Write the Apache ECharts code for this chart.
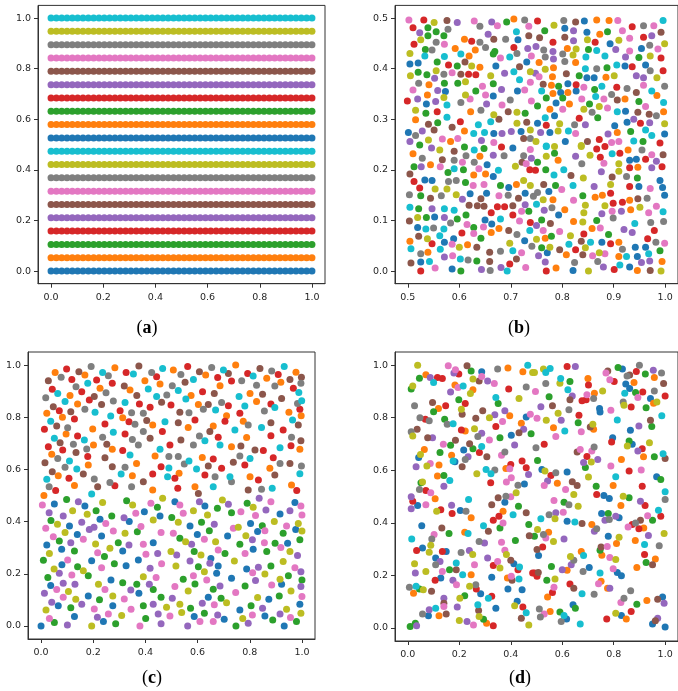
<!DOCTYPE html>
<html>
<head>
<meta charset="utf-8">
<script src="https://cdn.jsdelivr.net/npm/echarts@6/dist/echarts.min.js"></script>
<style>
  html, body { margin: 0; padding: 0; background: #fff; }
  #chart { width: 678px; height: 691px; }
</style>
</head>
<body>
<div id="chart"></div>
<script>
// tab10 colour cycle
const PALETTE = ['#1f77b4', '#ff7f0e', '#2ca02c', '#d62728', '#9467bd',
                 '#8c564b', '#e377c2', '#7f7f7f', '#bcbd22', '#17becf'];

// (a) regular grid: column positions and row levels
const gridX = [0.0000, 0.0204, 0.0408, 0.0612, 0.0816, 0.1020, 0.1224, 0.1429, 0.1633, 0.1837,
               0.2041, 0.2245, 0.2449, 0.2653, 0.2857, 0.3061, 0.3265, 0.3469, 0.3673, 0.3878,
               0.4082, 0.4286, 0.4490, 0.4694, 0.4898, 0.5102, 0.5306, 0.5510, 0.5714, 0.5918,
               0.6122, 0.6327, 0.6531, 0.6735, 0.6939, 0.7143, 0.7347, 0.7551, 0.7755, 0.7959,
               0.8163, 0.8367, 0.8571, 0.8776, 0.8980, 0.9184, 0.9388, 0.9592, 0.9796, 1.0000];
const gridY = [0.0000, 0.0526, 0.1053, 0.1579, 0.2105, 0.2632, 0.3158, 0.3684, 0.4211, 0.4737,
               0.5263, 0.5789, 0.6316, 0.6842, 0.7368, 0.7895, 0.8421, 0.8947, 0.9474, 1.0000];

// tick labels
const unitTicks = [0.0, 0.2, 0.4, 0.6, 0.8, 1.0];
const subsetTicksX = [0.5, 0.6, 0.7, 0.8, 0.9, 1.0];
const subsetTicksY = [0.0, 0.1, 0.2, 0.3, 0.4, 0.5];

// (b) sub-window sample: [x, y, colour index]
const subsetPts = [
[0.502,0.496,6],[0.531,0.496,3],[0.551,0.491,8],[0.576,0.495,5],[0.596,0.491,4],[0.629,0.494,6],[0.663,0.492,4],[0.692,0.492,2],[0.706,0.498,1],[0.727,0.496,7],
[0.510,0.481,3],[0.539,0.481,2],[0.523,0.471,4],[0.555,0.473,2],[0.578,0.478,7],[0.640,0.484,7],[0.674,0.485,6],[0.711,0.473,9],[0.735,0.484,6],[0.656,0.468,4],
[0.539,0.465,2],[0.525,0.457,8],[0.570,0.465,2],[0.512,0.448,3],[0.555,0.452,7],[0.571,0.448,6],[0.610,0.458,1],[0.624,0.454,3],[0.640,0.452,7],[0.667,0.458,5],[0.690,0.458,7],[0.714,0.457,0],[0.735,0.465,5],
[0.534,0.438,2],[0.547,0.437,7],[0.592,0.440,1],[0.631,0.437,1],[0.651,0.442,7],[0.669,0.434,2],[0.706,0.442,3],[0.733,0.440,4],[0.712,0.430,7],
[0.504,0.430,8],[0.533,0.425,9],[0.571,0.424,9],[0.603,0.429,9],[0.619,0.425,1],[0.666,0.429,2],[0.680,0.421,6],[0.698,0.423,9],[0.740,0.425,6],
[0.504,0.409,0],[0.520,0.411,0],[0.557,0.413,2],[0.579,0.407,3],[0.596,0.405,2],[0.611,0.413,5],[0.624,0.405,8],[0.640,0.403,1],[0.671,0.405,0],[0.717,0.404,5],[0.731,0.413,0],
[0.505,0.386,8],[0.520,0.393,2],[0.537,0.388,2],[0.555,0.396,8],[0.552,0.381,4],[0.570,0.389,7],[0.586,0.392,6],[0.603,0.389,5],[0.618,0.389,3],[0.632,0.388,3],[0.661,0.386,8],[0.688,0.391,4],[0.706,0.394,9],[0.738,0.394,8],
[0.521,0.371,7],[0.541,0.368,1],[0.571,0.371,2],[0.597,0.371,2],[0.612,0.374,8],[0.645,0.365,6],[0.666,0.370,2],[0.717,0.378,9],[0.682,0.359,4],[0.738,0.373,6],
[0.510,0.358,6],[0.538,0.348,1],[0.558,0.357,4],[0.573,0.355,0],[0.612,0.348,8],[0.632,0.356,2],[0.651,0.348,6],[0.666,0.346,0],[0.713,0.356,0],[0.727,0.358,6],
[0.499,0.336,3],[0.519,0.340,4],[0.536,0.330,0],[0.554,0.335,4],[0.570,0.343,8],[0.576,0.328,9],[0.603,0.333,7],[0.621,0.340,6],[0.653,0.330,4],[0.683,0.328,6],[0.699,0.338,7],[0.740,0.336,6],
[0.515,0.318,8],[0.535,0.312,2],[0.557,0.315,3],[0.622,0.315,1],[0.642,0.318,7],[0.576,0.304,9],[0.667,0.309,8],[0.695,0.315,5],[0.712,0.314,8],[0.728,0.312,2],
[0.515,0.299,1],[0.540,0.290,5],[0.558,0.293,2],[0.602,0.295,3],[0.637,0.289,9],[0.661,0.295,9],[0.677,0.300,5],[0.712,0.292,8],[0.731,0.294,5],
[0.501,0.274,0],[0.515,0.268,7],[0.528,0.277,4],[0.551,0.279,5],[0.586,0.284,5],[0.610,0.277,1],[0.628,0.272,9],[0.649,0.274,9],[0.667,0.272,0],[0.683,0.272,4],[0.701,0.276,4],[0.720,0.276,0],[0.738,0.279,8],
[0.504,0.256,4],[0.523,0.249,2],[0.540,0.259,8],[0.567,0.261,6],[0.583,0.256,1],[0.597,0.262,6],[0.643,0.258,4],[0.667,0.254,6],[0.725,0.262,5],[0.738,0.262,7],
[0.752,0.494,3],[0.784,0.486,8],[0.803,0.495,7],[0.826,0.492,5],[0.843,0.494,0],[0.867,0.496,1],[0.891,0.495,1],[0.908,0.495,6],[0.996,0.495,9],
[0.766,0.475,2],[0.805,0.480,0],[0.822,0.475,4],[0.848,0.472,0],[0.873,0.468,1],[0.888,0.473,2],[0.917,0.475,6],[0.936,0.483,3],[0.958,0.485,7],[0.978,0.485,6],[0.992,0.472,5],
[0.756,0.461,5],[0.782,0.452,3],[0.805,0.462,5],[0.822,0.455,4],[0.849,0.457,8],[0.864,0.452,3],[0.910,0.456,8],[0.931,0.460,6],[0.958,0.462,3],[0.974,0.465,4],[0.999,0.449,8],
[0.749,0.444,4],[0.764,0.437,7],[0.782,0.434,4],[0.810,0.440,1],[0.827,0.439,8],[0.851,0.438,2],[0.867,0.436,9],[0.893,0.449,0],[0.904,0.438,4],[0.931,0.435,6],[0.954,0.440,0],[0.970,0.446,7],[0.986,0.439,6],
[0.767,0.423,7],[0.783,0.419,4],[0.801,0.429,7],[0.821,0.427,8],[0.846,0.423,9],[0.883,0.425,9],[0.923,0.423,4],[0.949,0.422,2],[0.971,0.425,8],[0.992,0.421,3],[0.805,0.414,7],
[0.755,0.412,1],[0.767,0.399,8],[0.783,0.402,1],[0.826,0.412,1],[0.845,0.400,9],[0.867,0.400,7],[0.887,0.402,2],[0.906,0.407,9],[0.922,0.405,0],[0.936,0.404,3],[0.962,0.407,0],
[0.748,0.391,4],[0.755,0.384,6],[0.781,0.384,1],[0.808,0.390,5],[0.833,0.386,2],[0.848,0.382,0],[0.862,0.382,0],[0.885,0.383,1],[0.901,0.386,8],[0.944,0.386,4],[0.958,0.382,4],[0.984,0.382,8],[0.971,0.396,7],[0.996,0.396,3],
[0.763,0.369,5],[0.779,0.367,1],[0.793,0.365,2],[0.811,0.370,0],[0.827,0.368,3],[0.842,0.363,6],[0.877,0.365,9],[0.906,0.363,3],[0.926,0.361,7],[0.958,0.367,6],[0.999,0.365,7],
[0.760,0.356,9],[0.782,0.351,1],[0.797,0.353,0],[0.811,0.353,1],[0.827,0.356,0],[0.863,0.359,2],[0.896,0.349,7],[0.944,0.353,5],[0.974,0.356,9],[0.984,0.347,1],
[0.769,0.342,2],[0.788,0.332,0],[0.801,0.342,2],[0.814,0.330,1],[0.838,0.340,6],[0.865,0.345,9],[0.853,0.330,2],[0.881,0.340,6],[0.907,0.338,5],[0.922,0.340,1],[0.949,0.335,2],[0.962,0.325,6],[0.997,0.333,9],
[0.752,0.326,2],[0.776,0.320,1],[0.801,0.320,6],[0.842,0.320,8],[0.858,0.314,7],[0.872,0.325,8],[0.888,0.322,6],[0.907,0.315,9],[0.923,0.316,0],[0.785,0.307,0],[0.947,0.314,5],[0.969,0.310,5],[0.983,0.307,7],[0.997,0.315,1],
[0.752,0.292,0],[0.767,0.303,9],[0.769,0.288,3],[0.795,0.291,8],[0.833,0.302,3],[0.824,0.289,7],[0.845,0.289,4],[0.869,0.303,2],[0.902,0.287,0],[0.926,0.294,0],[0.939,0.300,4],[0.952,0.292,3],[0.970,0.293,4],[0.999,0.291,8],
[0.758,0.274,4],[0.776,0.274,0],[0.792,0.277,8],[0.812,0.277,9],[0.826,0.272,6],[0.889,0.271,4],[0.907,0.274,1],[0.933,0.276,2],[0.962,0.279,9],[0.974,0.268,9],[0.999,0.271,0],
[0.749,0.256,8],[0.769,0.247,9],[0.806,0.256,0],[0.849,0.256,5],[0.837,0.248,8],[0.872,0.260,3],[0.896,0.254,6],[0.910,0.256,6],[0.939,0.257,9],[0.957,0.256,2],[0.990,0.253,3],
[0.546,0.243,4],[0.562,0.239,8],[0.590,0.237,5],[0.610,0.245,2],[0.629,0.239,9],[0.648,0.242,2],[0.682,0.245,3],[0.704,0.243,0],[0.738,0.240,6],
[0.510,0.232,1],[0.528,0.223,7],[0.567,0.220,5],[0.590,0.219,7],[0.613,0.228,7],[0.640,0.227,1],[0.666,0.229,4],[0.687,0.228,7],[0.725,0.228,7],[0.740,0.223,4],
[0.512,0.206,2],[0.526,0.206,4],[0.544,0.210,1],[0.563,0.206,6],[0.590,0.202,9],[0.606,0.215,6],[0.608,0.200,2],[0.629,0.215,7],[0.638,0.202,6],[0.654,0.210,0],[0.651,0.192,1],[0.676,0.199,9],[0.730,0.212,6],[0.737,0.200,3],[0.709,0.207,8],[0.722,0.215,5],
[0.504,0.192,5],[0.578,0.195,2],[0.512,0.177,3],[0.533,0.180,0],[0.547,0.179,0],[0.579,0.177,7],[0.594,0.179,7],[0.612,0.175,2],[0.628,0.190,1],[0.627,0.169,6],[0.648,0.171,6],[0.666,0.187,0],[0.680,0.169,2],[0.696,0.165,0],[0.711,0.171,1],[0.725,0.179,8],[0.738,0.169,8],
[0.523,0.164,3],[0.553,0.162,8],[0.576,0.162,8],[0.503,0.151,7],[0.525,0.149,2],[0.544,0.144,5],[0.565,0.149,7],[0.594,0.151,8],[0.621,0.153,0],[0.642,0.143,5],[0.653,0.154,0],[0.677,0.149,6],[0.695,0.150,7],[0.715,0.144,5],[0.728,0.154,0],[0.744,0.148,7],
[0.504,0.126,9],[0.606,0.142,4],[0.619,0.130,5],[0.635,0.129,5],[0.648,0.128,5],[0.674,0.127,3],[0.688,0.127,3],[0.704,0.129,5],[0.728,0.131,4],[0.721,0.118,6],[0.521,0.123,2],[0.571,0.123,9],[0.547,0.123,4],[0.590,0.120,9],
[0.503,0.099,5],[0.519,0.106,8],[0.536,0.106,2],[0.552,0.107,0],[0.571,0.106,4],[0.613,0.111,2],[0.662,0.115,3],[0.704,0.111,3],[0.735,0.118,2],[0.583,0.095,7],[0.596,0.103,2],[0.650,0.101,0],[0.680,0.103,9],[0.717,0.099,6],
[0.519,0.086,0],[0.535,0.083,9],[0.550,0.085,7],[0.570,0.083,9],[0.615,0.092,6],[0.647,0.087,6],[0.663,0.093,0],[0.677,0.084,1],[0.696,0.080,5],[0.628,0.086,2],[0.738,0.096,3],[0.737,0.080,9],
[0.521,0.069,5],[0.538,0.064,8],[0.562,0.070,9],[0.605,0.075,3],[0.589,0.064,0],[0.628,0.074,6],[0.662,0.076,1],[0.642,0.065,2],[0.712,0.072,7],
[0.504,0.059,1],[0.547,0.054,3],[0.571,0.057,0],[0.586,0.053,6],[0.616,0.052,1],[0.600,0.047,8],[0.634,0.047,5],[0.698,0.055,8],[0.727,0.060,0],
[0.506,0.044,9],[0.525,0.034,7],[0.539,0.037,1],[0.563,0.043,9],[0.571,0.028,4],[0.587,0.030,6],[0.602,0.024,9],[0.617,0.022,7],[0.634,0.020,2],[0.659,0.037,5],[0.680,0.039,7],[0.704,0.040,9],[0.721,0.036,6],[0.741,0.049,7],
[0.506,0.016,5],[0.525,0.018,0],[0.542,0.019,9],[0.553,0.006,6],[0.525,0.000,3],[0.586,0.004,0],[0.603,0.000,2],[0.643,0.003,4],[0.660,0.001,7],[0.659,0.019,5],[0.698,0.014,3],[0.711,0.024,5],[0.681,0.007,4],[0.693,0.000,9],[0.729,0.007,6],
[0.769,0.246,9],[0.785,0.246,8],[0.837,0.246,8],[0.867,0.241,3],[0.883,0.246,3],[0.928,0.239,1],[0.955,0.239,7],
[0.752,0.215,2],[0.769,0.227,8],[0.785,0.233,2],[0.792,0.219,1],[0.826,0.227,4],[0.854,0.229,8],[0.874,0.225,3],[0.897,0.232,9],[0.881,0.213,6],[0.912,0.233,3],[0.931,0.219,0],[0.944,0.221,0],[0.962,0.221,3],[0.974,0.230,6],[0.996,0.230,5],[0.838,0.212,7],[0.910,0.212,8],[0.983,0.217,4],
[0.768,0.200,2],[0.784,0.190,9],[0.803,0.200,9],[0.817,0.189,5],[0.841,0.184,8],[0.876,0.196,4],[0.910,0.197,8],[0.897,0.186,5],[0.925,0.187,7],[0.931,0.204,3],[0.947,0.205,1],[0.974,0.204,4],[0.994,0.206,3],[0.990,0.179,0],[0.946,0.184,2],[0.748,0.199,3],
[0.764,0.171,5],[0.787,0.169,2],[0.821,0.169,9],[0.862,0.167,4],[0.894,0.171,8],[0.931,0.167,3],[0.949,0.167,0],[0.971,0.163,6],[0.995,0.165,0],[0.774,0.157,0],[0.752,0.155,7],[0.799,0.161,6],
[0.750,0.132,9],[0.763,0.141,8],[0.780,0.125,7],[0.782,0.141,1],[0.822,0.140,6],[0.840,0.149,2],[0.864,0.146,1],[0.878,0.150,1],[0.894,0.154,3],[0.947,0.143,5],[0.899,0.134,3],[0.917,0.136,3],[0.931,0.140,1],[0.965,0.144,7],[0.951,0.126,8],[0.983,0.128,6],[0.999,0.150,0],
[0.765,0.120,4],[0.793,0.111,0],[0.805,0.121,1],[0.845,0.130,8],[0.842,0.115,8],[0.877,0.113,4],[0.883,0.129,8],[0.897,0.118,6],[0.915,0.118,4],[0.933,0.121,1],[0.899,0.105,7],[0.968,0.115,6],[0.996,0.117,9],
[0.750,0.090,4],[0.760,0.101,2],[0.777,0.094,5],[0.822,0.098,1],[0.840,0.097,8],[0.867,0.100,2],[0.941,0.094,9],[0.972,0.096,7],[0.920,0.082,4],[0.936,0.076,4],[0.979,0.080,3],[0.763,0.080,6],[0.795,0.078,6],[0.779,0.069,2],[0.816,0.070,8],[0.842,0.073,3],[0.858,0.084,1],[0.874,0.085,6],[0.890,0.072,2],[0.997,0.098,7],
[0.750,0.063,8],[0.767,0.065,1],[0.837,0.059,5],[0.855,0.057,9],[0.877,0.057,0],[0.894,0.054,3],[0.910,0.057,1],[0.917,0.043,7],[0.942,0.047,0],[0.966,0.064,3],[0.982,0.057,7],[0.999,0.055,6],[0.990,0.040,2],[0.962,0.047,0],
[0.760,0.046,2],[0.776,0.047,8],[0.813,0.053,9],[0.826,0.042,3],[0.845,0.046,8],[0.795,0.042,5],
[0.754,0.030,4],[0.771,0.036,0],[0.808,0.032,1],[0.859,0.030,6],[0.872,0.036,8],[0.883,0.034,6],[0.925,0.029,9],[0.910,0.029,1],[0.946,0.029,0],[0.968,0.034,9],
[0.767,0.018,4],[0.824,0.017,7],[0.840,0.032,5],[0.869,0.019,7],[0.880,0.008,4],[0.912,0.012,9],[0.954,0.017,4],[0.970,0.020,4],[0.994,0.019,1],
[0.769,0.000,3],[0.788,0.006,1],[0.821,0.001,0],[0.851,0.000,8],[0.901,0.003,3],[0.946,0.001,1],[0.971,0.001,5],[0.992,0.000,8],[0.931,0.008,0]
];

// (c) stratified sample: [x, y, colour index]
const stratPts = [
[0.098,0.985,3],[0.192,0.994,7],[0.283,0.990,1],[0.375,0.996,5],[0.466,0.987,9],
[0.054,0.971,1],[0.145,0.974,5],[0.168,0.962,1],[0.236,0.971,9],[0.258,0.959,7],[0.326,0.971,3],[0.354,0.966,9],[0.424,0.971,7],[0.443,0.955,3],
[0.028,0.940,5],[0.077,0.953,7],[0.118,0.945,3],[0.179,0.930,9],[0.134,0.917,7],[0.213,0.943,3],[0.226,0.911,1],[0.273,0.930,3],[0.319,0.920,5],[0.398,0.940,1],[0.411,0.908,9],[0.456,0.927,1],
[0.043,0.907,3],[0.064,0.891,9],[0.156,0.898,3],[0.111,0.883,1],[0.249,0.894,7],[0.204,0.879,5],[0.341,0.904,1],[0.367,0.883,5],[0.482,0.885,7],[0.443,0.879,9],[0.018,0.875,7],
[0.092,0.860,9],[0.185,0.866,3],[0.140,0.851,1],[0.168,0.831,7],[0.232,0.849,5],[0.277,0.862,7],[0.322,0.856,9],[0.377,0.851,3],[0.462,0.857,5],[0.418,0.838,3],[0.047,0.840,5],[0.070,0.825,3],[0.022,0.815,1],
[0.114,0.821,5],[0.207,0.819,9],[0.303,0.825,3],[0.267,0.805,9],[0.347,0.817,7],[0.392,0.815,7],[0.082,0.800,1],[0.128,0.793,3],[0.313,0.798,1],
[0.037,0.785,9],[0.060,0.766,5],[0.102,0.760,7],[0.198,0.755,1],[0.245,0.774,3],[0.337,0.783,3],[0.405,0.787,5],[0.428,0.770,1],[0.360,0.773,7],[0.013,0.754,3],[0.465,0.745,3],[0.475,0.783,9],
[0.051,0.719,9],[0.096,0.736,1],[0.140,0.728,3],[0.236,0.723,7],[0.277,0.742,9],[0.322,0.736,3],[0.392,0.745,7],[0.073,0.702,5],[0.166,0.713,9],[0.418,0.719,5],[0.350,0.715,7],
[0.201,0.694,1],[0.028,0.687,3],[0.124,0.696,7],[0.175,0.678,7],[0.083,0.674,3],[0.252,0.696,5],[0.273,0.677,1],[0.313,0.672,3],[0.373,0.694,7],[0.456,0.677,9],
[0.041,0.658,1],[0.064,0.642,7],[0.109,0.632,9],[0.134,0.665,5],[0.179,0.649,3],[0.245,0.645,5],[0.341,0.655,9],[0.015,0.626,5],[0.437,0.651,1],[0.490,0.649,7],
[0.092,0.608,7],[0.137,0.602,9],[0.181,0.617,1],[0.273,0.610,5],[0.322,0.608,7],[0.366,0.623,1],[0.460,0.610,3],[0.490,0.605,9],
[0.043,0.591,5],[0.066,0.576,1],[0.107,0.566,3],[0.162,0.582,5],[0.022,0.562,9],[0.204,0.563,7],[0.264,0.550,7],[0.307,0.582,9],[0.350,0.576,1],[0.428,0.582,3],[0.485,0.572,9],
[0.031,0.534,7],[0.056,0.519,3],[0.128,0.538,1],[0.194,0.506,9],[0.217,0.534,5],[0.011,0.500,1],[0.283,0.537,3],[0.392,0.553,5],[0.347,0.534,7],[0.428,0.521,1],
[0.562,0.994,3],[0.654,0.991,7],[0.746,1.000,1],[0.839,0.987,5],[0.932,0.994,9],
[0.507,0.981,1],[0.536,0.964,7],[0.607,0.974,5],[0.631,0.962,1],[0.699,0.981,9],[0.718,0.968,5],[0.792,0.968,3],[0.813,0.958,9],[0.884,0.977,7],[0.909,0.964,3],[0.977,0.972,1],[0.998,0.953,5],
[0.584,0.945,9],[0.677,0.952,3],[0.686,0.921,1],[0.552,0.934,5],[0.730,0.939,3],[0.769,0.940,7],[0.826,0.923,7],[0.865,0.949,1],[0.919,0.934,1],[0.954,0.945,5],[0.996,0.930,7],
[0.503,0.921,7],[0.526,0.902,9],[0.619,0.898,3],[0.967,0.911,3],[0.664,0.891,5],[0.575,0.883,1],[0.759,0.879,9],[0.801,0.891,1],[0.849,0.888,5],[0.896,0.920,7],[0.988,0.895,9],[0.999,0.863,9],[0.922,0.872,5],
[0.555,0.870,9],[0.603,0.849,1],[0.641,0.849,5],[0.692,0.856,7],[0.718,0.844,3],[0.781,0.843,9],[0.826,0.860,1],[0.881,0.851,3],[0.983,0.853,7],[0.992,0.831,3],
[0.498,0.847,3],[0.532,0.819,5],[0.567,0.817,7],[0.669,0.828,9],[0.622,0.831,7],[0.711,0.806,1],[0.856,0.824,7],[0.950,0.819,1],[0.896,0.837,9],[0.762,0.815,3],[0.964,0.789,9],[0.997,0.806,1],
[0.590,0.789,3],[0.705,0.785,3],[0.526,0.779,5],[0.660,0.766,1],[0.775,0.785,1],[0.794,0.770,7],[0.881,0.779,5],[0.845,0.761,9],[0.928,0.751,3],[0.743,0.751,9],[0.564,0.761,1],[0.647,0.745,5],[0.986,0.770,5],
[0.536,0.713,5],[0.607,0.728,7],[0.679,0.723,3],[0.628,0.710,9],[0.788,0.722,1],[0.881,0.729,3],[0.960,0.723,7],[0.996,0.710,5],
[0.494,0.694,3],[0.584,0.694,7],[0.686,0.694,9],[0.730,0.687,1],[0.766,0.690,5],[0.820,0.674,5],[0.852,0.672,3],[0.916,0.683,9],[0.958,0.691,3],
[0.526,0.649,7],[0.567,0.632,9],[0.618,0.646,1],[0.660,0.640,3],[0.762,0.651,7],[0.801,0.642,9],[0.890,0.645,3],[0.992,0.677,1],
[0.549,0.621,7],[0.641,0.613,5],[0.737,0.627,5],[0.781,0.617,3],[0.877,0.604,1],[0.916,0.623,7],[0.954,0.623,5],[0.998,0.613,7],[0.596,0.602,9],[0.692,0.604,3],
[0.529,0.585,1],[0.513,0.566,3],[0.667,0.572,7],[0.724,0.572,9],[0.801,0.572,1],[0.833,0.559,3],[0.896,0.579,5],[0.992,0.583,9],[0.628,0.579,3],
[0.590,0.534,1],[0.524,0.528,3],[0.660,0.534,9],[0.794,0.521,5],[0.730,0.553,7],[0.886,0.528,9],[0.980,0.519,3],[0.960,0.540,1],[0.845,0.524,7],[0.603,0.508,5],
[0.098,0.485,2],[0.005,0.464,6],[0.051,0.467,0],[0.143,0.476,4],[0.168,0.460,0],[0.236,0.473,8],[0.328,0.480,2],[0.351,0.464,8],[0.421,0.470,6],[0.446,0.455,2],[0.466,0.489,8],
[0.031,0.434,4],[0.211,0.442,2],[0.177,0.428,8],[0.121,0.442,8],[0.226,0.409,0],[0.271,0.421,2],[0.318,0.415,4],[0.363,0.432,6],[0.396,0.438,0],[0.456,0.421,0],[0.085,0.421,4],
[0.038,0.404,2],[0.063,0.390,8],[0.109,0.383,0],[0.156,0.397,4],[0.248,0.393,6],[0.338,0.400,0],[0.203,0.378,4],[0.383,0.381,6],[0.430,0.406,8],[0.460,0.358,6],
[0.018,0.374,6],[0.092,0.358,8],[0.185,0.370,4],[0.139,0.351,0],[0.277,0.364,6],[0.322,0.355,8],[0.369,0.361,2],[0.047,0.342,6],[0.232,0.345,0],[0.162,0.332,6],
[0.070,0.326,2],[0.022,0.310,0],[0.114,0.319,4],[0.209,0.314,8],[0.296,0.319,2],[0.313,0.287,0],[0.337,0.310,4],[0.392,0.313,6],[0.430,0.319,0],[0.264,0.298,8],[0.128,0.287,2],[0.217,0.281,6],[0.079,0.294,0],[0.032,0.278,8],[0.447,0.278,4],
[0.102,0.253,6],[0.080,0.235,0],[0.243,0.266,2],[0.194,0.250,0],[0.373,0.253,0],[0.402,0.275,6],[0.462,0.238,6],[0.009,0.252,2],[0.281,0.238,2],
[0.050,0.218,8],[0.070,0.202,4],[0.140,0.227,2],[0.162,0.212,8],[0.232,0.223,6],[0.326,0.231,0],[0.418,0.221,4],
[0.026,0.186,2],[0.118,0.195,6],[0.181,0.192,2],[0.268,0.176,0],[0.392,0.189,8],[0.441,0.186,6],[0.220,0.160,8],
[0.037,0.155,0],[0.085,0.164,4],[0.313,0.166,2],[0.060,0.140,6],[0.130,0.160,4],[0.245,0.140,6],[0.344,0.138,4],[0.367,0.160,2],[0.415,0.160,4],[0.430,0.140,2],[0.375,0.125,0],[0.105,0.132,8],[0.181,0.115,0],[0.275,0.115,8],[0.224,0.100,2],
[0.013,0.125,4],[0.085,0.110,6],[0.133,0.102,8],[0.319,0.103,6],[0.460,0.110,2],
[0.041,0.091,4],[0.066,0.077,0],[0.114,0.070,2],[0.156,0.083,4],[0.204,0.065,6],[0.275,0.077,0],[0.345,0.064,6],[0.392,0.077,2],[0.430,0.083,4],[0.481,0.072,8],
[0.019,0.061,8],[0.032,0.029,6],[0.128,0.036,0],[0.216,0.033,4],[0.239,0.017,0],[0.309,0.040,8],[0.401,0.029,2],[0.449,0.046,4],[0.258,0.046,6],
[0.000,0.000,0],[0.051,0.013,2],[0.101,0.004,4],[0.194,0.000,8],[0.286,0.008,2],[0.379,0.000,6],[0.460,0.008,4],
[0.513,0.476,0],[0.532,0.464,6],[0.607,0.476,4],[0.695,0.483,8],[0.718,0.466,4],[0.628,0.460,0],[0.676,0.451,2],[0.790,0.470,2],[0.813,0.455,8],[0.881,0.476,6],[0.836,0.489,4],[0.973,0.473,0],[0.996,0.460,6],
[0.501,0.416,2],[0.545,0.432,6],[0.584,0.442,8],[0.638,0.425,8],[0.730,0.434,2],[0.766,0.438,6],[0.822,0.423,6],[0.954,0.442,4],[0.916,0.429,0],[1.000,0.425,6],[0.894,0.400,8],[0.862,0.444,4],
[0.526,0.397,8],[0.664,0.390,4],[0.571,0.383,0],[0.737,0.374,6],[0.756,0.378,8],[0.803,0.393,0],[0.848,0.384,2],[0.941,0.383,6],[0.986,0.393,8],[0.615,0.397,2],
[0.507,0.355,6],[0.532,0.336,2],[0.599,0.351,0],[0.645,0.365,2],[0.715,0.345,0],[0.785,0.346,8],[0.830,0.362,0],[0.858,0.365,6],[0.928,0.355,2],[0.976,0.370,0],[1.000,0.364,8],[0.992,0.330,2],
[0.554,0.323,8],[0.626,0.332,6],[0.669,0.323,8],[0.762,0.313,2],[0.810,0.330,4],[0.856,0.319,6],[0.897,0.317,2],[0.945,0.317,0],[0.577,0.313,4],
[0.498,0.285,8],[0.520,0.272,4],[0.587,0.285,2],[0.651,0.259,0],[0.613,0.272,8],[0.679,0.291,6],[0.705,0.278,2],[0.782,0.278,6],[0.813,0.294,0],[0.865,0.285,2],[0.954,0.285,8],[0.983,0.270,4],[0.919,0.301,6],
[0.571,0.249,4],[0.647,0.240,4],[0.741,0.249,8],[0.603,0.227,2],[0.679,0.230,0],[0.788,0.218,0],[0.833,0.225,4],[0.881,0.230,2],[0.928,0.247,8],[0.973,0.223,6],[0.517,0.230,8],
[0.626,0.208,8],[0.584,0.192,6],[0.673,0.202,0],[0.811,0.204,6],[0.858,0.199,8],[0.996,0.208,4],[0.948,0.192,2],[0.730,0.183,0],[0.822,0.174,4],[0.916,0.179,8],[1.000,0.176,2],[0.635,0.176,6],[0.545,0.179,2],
[0.513,0.151,6],[0.590,0.161,2],[0.686,0.153,4],[0.660,0.141,2],[0.782,0.153,2],[0.884,0.157,6],[0.922,0.160,0],[0.996,0.151,4],
[0.503,0.106,4],[0.564,0.134,8],[0.641,0.110,0],[0.690,0.106,2],[0.746,0.128,6],[0.830,0.109,8],[0.873,0.102,0],[0.913,0.115,2],[0.958,0.134,8],[1.000,0.113,6],
[0.532,0.083,8],[0.711,0.089,8],[0.762,0.061,0],[0.805,0.077,2],[0.849,0.068,4],[0.941,0.064,8],[0.992,0.083,0],[0.618,0.087,4],[0.664,0.081,6],
[0.494,0.038,6],[0.539,0.052,8],[0.573,0.068,2],[0.587,0.036,0],[0.626,0.049,2],[0.677,0.042,4],[0.702,0.026,0],[0.773,0.029,8],[0.956,0.032,6],[0.996,0.049,8],[0.888,0.023,2],[0.916,0.046,4],[0.810,0.042,6],[0.858,0.038,0],
[0.562,0.000,4],[0.609,0.017,6],[0.747,0.000,2],[0.794,0.010,4],[0.932,0.000,0],[0.979,0.017,2],[0.660,0.017,6]
];

// (d) plain random sample: [x, y, colour index]
const randomPts = [
[0.038,1.000,8],[0.157,0.998,6],[0.230,0.998,5],[0.246,0.978,2],[0.287,0.975,0],[0.349,0.985,7],[0.389,0.989,1],[0.466,1.000,9],[0.447,0.975,1],[0.485,0.972,8],
[0.045,0.950,2],[0.070,0.963,1],[0.087,0.953,4],[0.115,0.953,3],[0.134,0.949,3],[0.100,0.934,9],[0.185,0.982,6],[0.179,0.970,4],[0.198,0.966,3],[0.253,0.947,8],[0.277,0.940,5],[0.287,0.957,6],[0.310,0.940,4],[0.336,0.930,6],
[0.013,0.909,2],[0.019,0.921,8],[0.183,0.924,1],[0.195,0.915,6],[0.215,0.921,9],[0.253,0.906,1],[0.243,0.892,8],[0.166,0.898,4],[0.392,0.909,3],[0.460,0.917,7],[0.432,0.873,8],[0.342,0.877,9],[0.351,0.854,2],[0.198,0.868,2],[0.223,0.854,3],
[0.026,0.845,7],[0.096,0.858,5],[0.119,0.835,1],[0.147,0.845,3],[0.100,0.823,2],[0.208,0.832,8],[0.211,0.813,5],[0.291,0.826,5],[0.338,0.811,4],[0.317,0.800,8],[0.377,0.826,4],[0.396,0.807,1],[0.476,0.813,6],[0.460,0.803,0],
[0.047,0.800,7],[0.068,0.794,3],[0.083,0.788,7],[0.143,0.794,2],[0.153,0.775,7],[0.176,0.777,9],[0.264,0.798,5],[0.368,0.785,6],[0.441,0.779,1],[0.342,0.766,3],
[0.013,0.746,7],[0.019,0.730,8],[0.036,0.756,5],[0.208,0.753,3],[0.223,0.749,1],[0.259,0.758,8],[0.358,0.724,2],[0.402,0.733,0],[0.432,0.743,5],[0.450,0.756,4],[0.287,0.741,4],[0.272,0.728,7],[0.096,0.724,4],[0.077,0.724,5],
[0.185,0.714,5],[0.138,0.699,6],[0.166,0.695,2],[0.287,0.690,9],[0.240,0.701,5],[0.317,0.715,6],[0.278,0.667,3],[0.234,0.651,4],[0.223,0.641,7],[0.364,0.657,6],[0.377,0.669,7],[0.415,0.696,4],[0.479,0.739,2],
[0.064,0.679,1],[0.049,0.660,8],[0.042,0.648,0],[0.125,0.667,2],[0.170,0.657,1],[0.217,0.677,0],[0.253,0.682,2],[0.176,0.635,9],[0.183,0.632,0],[0.307,0.651,5],
[0.032,0.613,4],[0.074,0.616,8],[0.087,0.626,6],[0.121,0.620,1],[0.211,0.613,5],[0.304,0.603,9],[0.338,0.601,7],[0.323,0.587,9],[0.396,0.606,6],[0.381,0.607,1],[0.400,0.622,3],[0.444,0.635,3],[0.460,0.609,3],
[0.268,0.587,8],[0.115,0.578,1],[0.140,0.580,2],[0.163,0.561,9],[0.402,0.571,6],[0.428,0.543,7],[0.453,0.548,0],[0.469,0.584,4],[0.140,0.539,4],[0.057,0.555,8],[0.051,0.552,2],[0.070,0.523,3],[0.045,0.527,7],[0.322,0.552,3],[0.383,0.555,6],[0.421,0.514,8],[0.089,0.514,6],
[0.492,0.972,8],[0.527,0.985,8],[0.536,0.972,9],[0.553,0.987,9],[0.619,0.995,3],[0.651,0.995,4],[0.817,0.991,2],[0.834,0.985,0],[0.900,1.000,7],[0.954,0.981,4],[0.986,0.970,7],[0.777,0.978,5],[0.770,0.970,6],
[0.700,0.949,1],[0.702,0.924,3],[0.594,0.949,9],[0.630,0.938,2],[0.591,0.931,8],[0.536,0.930,7],[0.496,0.900,6],[0.549,0.880,2],[0.622,0.906,9],[0.639,0.883,4],[0.725,0.893,1],[0.693,0.868,3],[0.696,0.887,6],[0.722,0.873,7],[0.677,0.864,3],[0.630,0.868,5],[0.757,0.902,8],[0.785,0.944,6],[0.802,0.938,3],
[0.852,0.959,7],[0.879,0.934,1],[0.862,0.962,5],[0.888,0.976,3],[0.923,0.966,2],[0.958,0.953,1],[0.994,0.930,5],[0.847,0.928,0],[0.843,0.893,9],[0.862,0.911,0],[0.885,0.896,2],[0.913,0.898,3],[0.958,0.902,7],[0.894,0.877,6],
[0.837,0.860,7],[0.840,0.847,8],[0.868,0.841,3],[0.955,0.855,1],[0.968,0.860,8],[0.926,0.838,2],[0.943,0.873,0],[1.000,0.883,3],[0.517,0.842,4],[0.502,0.798,6],[0.562,0.845,5],[0.584,0.817,8],[0.538,0.790,8],[0.626,0.830,7],[0.665,0.809,3],[0.662,0.781,2],
[0.745,0.835,0],[0.747,0.822,0],[0.814,0.791,9],[0.789,0.828,6],[0.719,0.775,8],[0.709,0.765,5],[0.596,0.790,4],[0.575,0.728,6],[0.610,0.749,9],[0.566,0.762,1],[0.674,0.746,6],[0.722,0.756,1],[0.943,0.790,5],[0.898,0.768,4],[0.948,0.766,2],[0.865,0.752,0],[0.987,0.807,9],
[0.939,0.705,8],[0.853,0.692,8],[0.860,0.711,2],[0.872,0.699,0],[0.792,0.707,3],[0.796,0.724,0],[0.911,0.682,3],[0.916,0.651,1],[0.958,0.651,2],[0.992,0.663,9],[0.894,0.673,4],[0.530,0.699,3],[0.498,0.686,7],[0.504,0.637,2],[0.521,0.603,0],[0.533,0.597,8],[0.556,0.580,3],[0.575,0.590,7],[0.581,0.550,1],[0.619,0.593,0],
[0.670,0.679,6],[0.715,0.673,6],[0.683,0.629,4],[0.696,0.652,3],[0.738,0.641,4],[0.713,0.631,8],[0.690,0.610,2],[0.724,0.688,7],[0.658,0.669,5],[0.702,0.574,8],[0.808,0.575,9],[0.830,0.641,1],[0.860,0.597,3],[0.789,0.616,6],[0.907,0.601,6],[1.000,0.645,5],[0.967,0.575,0],[0.983,0.565,2],
[0.639,0.556,5],[0.658,0.542,5],[0.798,0.542,1],[0.732,0.539,2],[0.613,0.527,6],[0.530,0.542,6],[0.543,0.559,4],[0.911,0.539,3],[1.000,0.518,9],
[0.013,0.499,4],[0.019,0.482,3],[0.038,0.466,0],[0.070,0.469,6],[0.013,0.453,4],[0.106,0.491,1],[0.170,0.467,4],[0.128,0.450,3],[0.112,0.444,8],[0.172,0.435,3],[0.236,0.489,9],[0.204,0.447,0],[0.226,0.444,7],[0.246,0.419,1],[0.326,0.469,5],[0.377,0.478,0],[0.351,0.495,5],[0.381,0.501,7],[0.400,0.499,6],[0.430,0.463,2],[0.460,0.438,5],
[0.354,0.425,3],[0.409,0.431,9],[0.370,0.444,1],[0.370,0.399,6],[0.332,0.410,3],[0.294,0.389,9],[0.358,0.380,2],[0.313,0.368,5],[0.470,0.393,2],[0.472,0.351,5],[0.054,0.389,0],[0.015,0.338,9],[0.132,0.380,5],[0.102,0.355,6],[0.160,0.359,2],[0.221,0.364,1],[0.234,0.359,9],
[0.089,0.314,8],[0.093,0.338,7],[0.034,0.294,3],[0.057,0.304,0],[0.083,0.288,8],[0.134,0.291,3],[0.149,0.291,0],[0.207,0.287,7],[0.239,0.294,4],[0.252,0.279,8],[0.277,0.329,7],[0.298,0.323,4],[0.364,0.326,6],[0.377,0.295,6],[0.383,0.279,8],[0.418,0.333,2],[0.400,0.257,5],[0.412,0.244,0],
[0.026,0.244,8],[0.029,0.209,4],[0.070,0.215,8],[0.108,0.266,0],[0.125,0.253,4],[0.108,0.240,7],[0.134,0.215,6],[0.162,0.221,2],[0.188,0.247,9],[0.188,0.221,5],[0.259,0.240,6],[0.310,0.266,4],[0.349,0.253,6],[0.358,0.228,8],[0.332,0.237,3],[0.434,0.232,9],[0.428,0.221,3],[0.485,0.209,3],
[0.213,0.202,9],[0.246,0.202,1],[0.264,0.164,7],[0.326,0.193,0],[0.387,0.190,1],[0.402,0.196,6],[0.405,0.181,5],[0.432,0.186,9],[0.006,0.155,7],[0.032,0.158,9],[0.045,0.148,2],[0.060,0.145,8],[0.022,0.132,1],[0.092,0.139,5],[0.128,0.190,0],[0.106,0.181,3],[0.175,0.181,4],[0.189,0.164,6],[0.240,0.158,8],[0.266,0.148,3],[0.283,0.130,0],[0.326,0.120,3],[0.313,0.113,9],
[0.140,0.113,4],[0.202,0.113,8],[0.221,0.122,2],[0.389,0.148,0],[0.444,0.145,0],[0.140,0.094,5],[0.140,0.081,6],[0.192,0.079,4],[0.272,0.088,9],[0.342,0.075,0],[0.425,0.101,0],[0.415,0.084,8],[0.447,0.079,3],
[0.080,0.046,0],[0.057,0.053,7],[0.083,0.069,4],[0.121,0.046,1],[0.149,0.053,5],[0.108,0.075,9],[0.275,0.066,5],[0.277,0.043,8],[0.294,0.033,2],[0.200,0.028,8],[0.230,0.024,4],[0.255,0.011,6],[0.441,0.037,5],[0.460,0.058,9],[0.306,0.018,1],[0.332,0.008,3],[0.009,0.005,2],[0.029,0.018,2],[0.034,0.008,4],[0.470,0.011,8],
[0.645,0.508,8],[0.734,0.508,3],[0.762,0.504,0],[0.783,0.492,0],[0.568,0.485,6],[0.607,0.478,2],[0.626,0.469,7],[0.662,0.463,8],[0.604,0.440,6],[0.549,0.431,7],[0.575,0.438,4],[0.572,0.415,8],[0.517,0.415,9],[0.828,0.466,1],[0.860,0.495,2],[0.837,0.501,8],[0.904,0.482,4],[0.922,0.466,3],[1.000,0.489,7],[0.983,0.425,3],[0.974,0.448,9],[0.932,0.427,6],
[0.917,0.380,1],[0.885,0.399,7],[0.904,0.410,5],[0.856,0.384,6],[0.872,0.393,3],[0.898,0.377,3],[0.951,0.410,2],[0.935,0.352,4],[0.996,0.359,8],[0.619,0.406,0],[0.649,0.403,9],[0.677,0.397,5],[0.715,0.393,1],[0.725,0.368,4],[0.734,0.377,7],[0.753,0.435,0],[0.779,0.435,2],[0.766,0.410,4],[0.783,0.412,7],[0.808,0.425,4],[0.821,0.419,0],
[0.779,0.349,0],[0.821,0.345,8],[0.811,0.321,1],[0.747,0.295,2],[0.751,0.308,5],[0.775,0.310,6],[0.754,0.276,1],[0.808,0.260,8],[0.785,0.268,6],[0.683,0.275,9],[0.674,0.291,1],[0.632,0.272,8],[0.645,0.257,7],[0.635,0.240,4],[0.607,0.338,4],[0.566,0.329,8],[0.502,0.298,5],[0.524,0.308,3],[0.508,0.275,0],[0.547,0.364,1],[0.536,0.342,6],[0.527,0.355,7],[0.504,0.374,8],[0.492,0.349,2],
[0.884,0.333,1],[0.920,0.317,9],[0.977,0.313,7],[0.962,0.262,1],[0.926,0.249,2],[0.951,0.240,5],[0.920,0.279,3],[0.890,0.230,1],[0.558,0.234,2],[0.705,0.230,0],[0.681,0.215,7],[0.798,0.225,6],[0.814,0.211,0],[0.830,0.198,0],[0.747,0.209,9],[0.619,0.219,1],[0.600,0.221,4],[0.492,0.209,3],[0.502,0.196,3],[0.507,0.211,5],
[0.540,0.181,2],[0.572,0.186,8],[0.568,0.155,6],[0.543,0.117,1],[0.562,0.135,3],[0.630,0.167,3],[0.645,0.151,5],[0.677,0.130,9],[0.751,0.177,1],[0.776,0.151,1],[0.785,0.151,4],[0.741,0.168,6],[0.724,0.128,7],[0.828,0.097,6],[0.840,0.113,7],[0.866,0.141,7],[0.868,0.062,3],[0.929,0.104,1],[0.971,0.109,5],[0.990,0.117,0],[0.996,0.094,4],[0.890,0.090,2],
[0.642,0.088,0],[0.651,0.075,2],[0.617,0.034,0],[0.591,0.060,2],[0.607,0.047,9],[0.596,0.024,7],[0.511,0.072,7],[0.530,0.053,6],[0.553,0.062,1],[0.515,0.041,7],[0.773,0.034,3],[0.808,0.056,8],[0.830,0.047,0],[0.849,0.034,1],[0.962,0.027,5],[0.971,0.037,4],[0.951,0.015,0],[1.000,0.003,0],[0.670,0.015,9]
];

// panel frames in page pixels and their value windows
const panels = [
  { left: 38,  top: 5.4,  width: 287, height: 278.3, x: [-0.05, 1.05],  y: [-0.05, 1.05],  xt: unitTicks,    yt: unitTicks,    tag: 'a', cx: 147, cy: 328 },
  { left: 395, top: 5.4,  width: 286, height: 278.3, x: [0.475, 1.025], y: [-0.025, 0.525], xt: subsetTicksX, yt: subsetTicksY, tag: 'b', cx: 519, cy: 328 },
  { left: 28,  top: 352,  width: 287, height: 287,   x: [-0.05, 1.05],  y: [-0.05, 1.05],  xt: unitTicks,    yt: unitTicks,    tag: 'c', cx: 152, cy: 678 },
  { left: 395, top: 352,  width: 287, height: 289,   x: [-0.05, 1.05],  y: [-0.05, 1.05],  xt: unitTicks,    yt: unitTicks,    tag: 'd', cx: 520, cy: 678 }
];

const AXIS_INK = '#333';
const DOT = 7;

function makeAxis(i, range, ticks, isX) {
  return {
    type: 'value', gridIndex: i, min: range[0], max: range[1],
    splitLine: { show: false },
    axisLine: { show: true, onZero: false, lineStyle: { color: AXIS_INK, width: 1 } },
    axisTick: { show: true, length: 4, customValues: ticks, lineStyle: { color: AXIS_INK, width: 1 } },
    axisLabel: {
      customValues: ticks, formatter: v => v.toFixed(1),
      fontFamily: 'DejaVu Sans', fontSize: 9.5, color: '#262626', margin: isX ? 9 : 7
    }
  };
}

function byColour(points) {
  const groups = PALETTE.map(() => []);
  points.forEach(([x, y, c]) => groups[c].push([x, y]));
  return groups;
}

const series = [];

// (a) one row per series, colours cycling through the palette
gridY.forEach((yv, r) => {
  series.push({
    type: 'scatter', xAxisIndex: 0, yAxisIndex: 0, symbolSize: DOT,
    itemStyle: { color: PALETTE[r % PALETTE.length], opacity: 1 },
    data: gridX.map(xv => [xv, yv])
  });
});

// (b), (c), (d) grouped by colour
[subsetPts, stratPts, randomPts].forEach((pts, k) => {
  const idx = k + 1;
  byColour(pts).forEach((data, c) => {
    if (!data.length) return;
    series.push({
      type: 'scatter', xAxisIndex: idx, yAxisIndex: idx, symbolSize: DOT,
      itemStyle: { color: PALETTE[c], opacity: 1 },
      data
    });
  });
});

const captionStyle = {
  p: { fontFamily: 'Liberation Serif', fontSize: 18, color: '#000' },
  b: { fontFamily: 'Liberation Serif', fontSize: 18, fontWeight: 'bold', color: '#000' }
};

const option = {
  backgroundColor: '#fff',
  animation: false,
  grid: panels.map(p => ({
    left: p.left, top: p.top, width: p.width, height: p.height,
    show: true, borderColor: AXIS_INK, borderWidth: 1, backgroundColor: 'transparent'
  })),
  xAxis: panels.map((p, i) => makeAxis(i, p.x, p.xt, true)),
  yAxis: panels.map((p, i) => makeAxis(i, p.y, p.yt, false)),
  series,
  graphic: panels.map(p => ({
    type: 'text', x: p.cx, y: p.cy, silent: true,
    style: {
      text: '{p|(}{b|' + p.tag + '}{p|)}', rich: captionStyle,
      align: 'center', verticalAlign: 'middle'
    }
  }))
};

const chart = echarts.init(document.getElementById('chart'), null, { renderer: 'canvas' });
chart.setOption(option);
</script>
</body>
</html>
